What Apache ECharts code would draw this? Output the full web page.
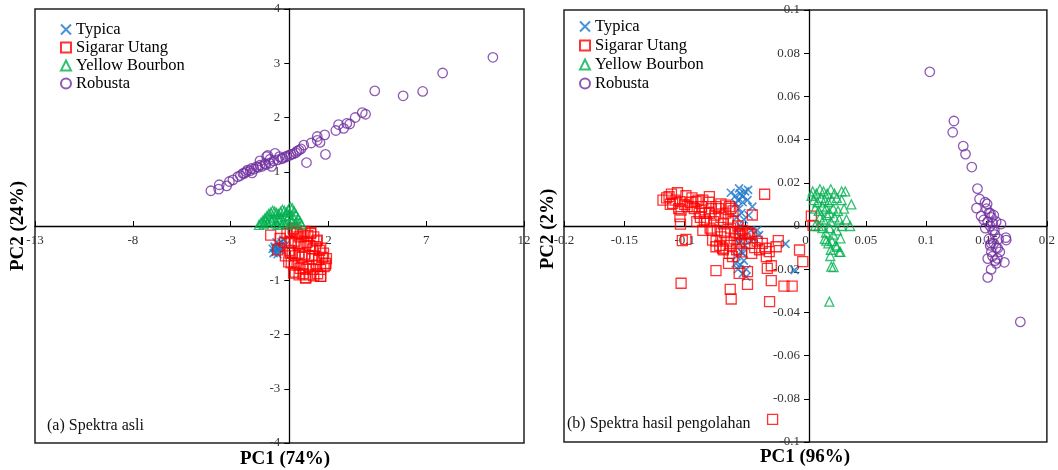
<!DOCTYPE html>
<html>
<head>
<meta charset="utf-8">
<script src="https://cdn.jsdelivr.net/npm/echarts@6/dist/echarts.min.js"></script>
<style>
  html, body { margin: 0; padding: 0; background: #fff; }
  #chart { width: 1058px; height: 470px; }
</style>
</head>
<body>
<div id="chart"></div>
<script>
// ---- panel (a): raw spectra scores ----
const typicaA = [
  [-0.85, -0.42], [-0.75, -0.38], [-0.7, -0.48], [-0.62, -0.4], [-0.55, -0.33], [-0.5, -0.45],
  [-0.45, -0.38], [-0.8, -0.5], [-0.65, -0.3], [-0.4, -0.3], [-0.3, -0.25], [-0.35, -0.45],
  [-0.2, -0.35], [-0.73, -0.41], [-0.6, -0.52]
]
const sigararA = [
  [-0.95, -0.17], [-0.59, -0.44], [-0.47, -0.23], [-0.12, -0.14], [0.22, -0.07], [0.4, -0.14],
  [1.09, -0.14], [1.43, -0.26], [1.61, -0.41], [1.87, -0.69], [1.78, -0.75], [1.61, -0.93],
  [0.83, -0.96], [0.22, -0.87], [-0.03, -0.66], [0.05, -0.5],
  [0.05, -0.1], [0.2, -0.05], [0.35, -0.12], [0.5, -0.2], [0.65, -0.15], [0.8, -0.1], [0.95, -0.18],
  [1.1, -0.12], [1.25, -0.2], [1.4, -0.28], [0.1, -0.3], [0.3, -0.28], [0.45, -0.35], [0.6, -0.32],
  [0.75, -0.38], [0.9, -0.3], [1.05, -0.36], [1.2, -0.42], [1.35, -0.38], [1.55, -0.45], [0.0, -0.45],
  [0.15, -0.5], [0.3, -0.55], [0.5, -0.5], [0.65, -0.58], [0.8, -0.52], [1.0, -0.55], [1.15, -0.6],
  [1.3, -0.55], [1.5, -0.62], [1.7, -0.58], [0.1, -0.68], [0.25, -0.72], [0.4, -0.7], [0.55, -0.78],
  [0.7, -0.72], [0.85, -0.8], [1.0, -0.75], [1.2, -0.8], [1.4, -0.72], [1.6, -0.8], [1.85, -0.72],
  [0.3, -0.85], [0.5, -0.9], [0.7, -0.88], [0.85, -0.95], [1.05, -0.9], [1.25, -0.92], [1.45, -0.88],
  [1.6, -0.93], [-0.25, -0.3], [-0.2, -0.55], [1.9, -0.6], [1.75, -0.5]
]
const bourbonA = [
  [-1.55, 0.02], [-1.45, 0.06], [-1.35, 0.1], [-1.25, 0.14], [-1.15, 0.18], [-1.05, 0.22], [-0.95, 0.25],
  [-0.85, 0.28], [-0.75, 0.27], [-0.65, 0.24], [-0.55, 0.22], [-0.45, 0.26], [-0.35, 0.3], [-0.25, 0.28],
  [-0.15, 0.25], [-0.05, 0.3], [0.05, 0.35], [0.15, 0.33], [0.25, 0.27], [0.35, 0.2], [0.45, 0.14],
  [0.55, 0.08], [0.62, 0.03], [-1.3, 0.03], [-1.1, 0.06], [-0.9, 0.1], [-0.7, 0.05], [-0.5, 0.1],
  [-0.3, 0.06], [-0.1, 0.12], [0.1, 0.08], [0.3, 0.04], [-1.0, 0.14], [-0.8, 0.16], [-0.6, 0.12],
  [-0.4, 0.16], [-0.2, 0.18], [0.0, 0.2], [0.2, 0.15], [0.4, 0.08], [-0.15, 0.02], [-0.6, 0.02], [-1.2, 0.1]
]
const robustaA = [
  [10.41, 3.11], [7.84, 2.82], [6.82, 2.48], [5.82, 2.4], [4.37, 2.49], [3.9, 2.06], [3.73, 2.09],
  [3.37, 2.0], [3.09, 1.88], [2.94, 1.89], [2.78, 1.8], [2.52, 1.87], [2.38, 1.76], [1.81, 1.68],
  [1.43, 1.65], [1.57, 1.54], [1.43, 1.58], [1.85, 1.32], [1.12, 1.53], [0.88, 1.17], [0.74, 1.49],
  [0.5, 1.4], [0.33, 1.35], [0.09, 1.32], [-0.12, 1.29], [-0.33, 1.25], [-0.73, 1.34], [-0.98, 1.23],
  [-1.16, 1.28], [-1.24, 1.15], [-1.5, 1.12], [-1.68, 1.09], [-1.93, 1.06], [-2.14, 1.03], [-2.37, 0.97],
  [-2.63, 0.91], [-2.88, 0.85], [-3.06, 0.82], [-3.2, 0.74], [-3.58, 0.76], [-3.61, 0.68], [-4.01, 0.65],
  [-2.5, 0.93], [-2.3, 0.97], [-2.0, 1.02], [-1.8, 1.05], [-1.6, 1.08], [-1.4, 1.1], [-1.2, 1.13],
  [-1.0, 1.16], [-0.8, 1.2], [-0.6, 1.22], [-0.4, 1.24], [-0.2, 1.27], [0.0, 1.3], [0.2, 1.33],
  [-1.5, 1.2], [-1.1, 1.3], [-0.9, 1.1], [-1.9, 0.98], [-2.2, 1.0], [-0.5, 1.28], [0.4, 1.38], [0.6, 1.42]
]

// ---- panel (b): processed spectra scores ----
const typicaB = [
  [-0.0618, 0.0154], [-0.055, 0.0174], [-0.0475, 0.0167], [-0.052, 0.0136], [-0.044, 0.009],
  [-0.0577, 0.0105], [-0.04, -0.0019], [-0.0384, -0.0042], [-0.0165, -0.0083], [-0.009, -0.0204],
  [-0.049, -0.0235], [-0.0577, -0.0173], [-0.052, -0.0127],
  [-0.058, 0.014], [-0.056, 0.012], [-0.054, 0.015], [-0.052, 0.011], [-0.055, 0.008], [-0.053, 0.006],
  [-0.057, 0.004], [-0.051, 0.003], [-0.054, 0.0], [-0.056, -0.003], [-0.052, -0.005], [-0.055, -0.008],
  [-0.05, -0.009], [-0.053, -0.012], [-0.057, -0.014], [-0.051, -0.016], [-0.054, -0.018], [-0.049, -0.02],
  [-0.056, -0.02], [-0.052, -0.022], [-0.047, 0.005], [-0.045, -0.002], [-0.043, -0.006], [-0.048, 0.012],
  [-0.05, 0.016]
]
const sigararB = [
  [-0.118, 0.012], [-0.113, 0.0136], [-0.111, 0.0148], [-0.106, 0.0154], [-0.099, 0.014], [-0.104, 0.0113],
  [-0.11, 0.0105], [-0.103, 0.0074], [-0.104, 0.0043], [-0.1035, 0.0009], [-0.099, -0.0062], [-0.102, -0.0068],
  [-0.103, -0.0265], [-0.0796, 0.0136], [-0.0906, 0.0113], [-0.085, 0.012], [-0.0934, 0.009], [-0.088, 0.0059],
  [-0.0838, 0.0028], [-0.0796, 0.0059], [-0.0741, 0.009], [-0.07, 0.0102], [-0.066, 0.0097], [-0.0618, 0.0082],
  [-0.078, -0.0019], [-0.0769, -0.0065], [-0.0741, -0.0096], [-0.0686, -0.0103], [-0.0632, -0.0127],
  [-0.0604, -0.0142], [-0.0637, -0.0173], [-0.0741, -0.0207], [-0.0549, -0.0219], [-0.048, -0.0211],
  [-0.048, -0.027], [-0.0623, -0.0293], [-0.0615, -0.0338], [-0.0549, -0.0034], [-0.0467, -0.0034],
  [-0.044, 0.0051], [-0.0445, -0.0127], [-0.0357, -0.008], [-0.033, -0.0103], [-0.03, -0.0119],
  [-0.0324, -0.0142], [-0.0225, -0.0068], [-0.0242, -0.0096], [-0.0316, -0.0196], [-0.0283, -0.0184],
  [-0.0283, -0.0253], [-0.0297, -0.035], [-0.0178, -0.0278], [-0.011, -0.0278], [-0.0049, -0.0111],
  [-0.0022, -0.0165], [-0.0338, 0.0147], [0.0049, 0.0046], [0.0063, 0.0003], [-0.0272, -0.0895],
  [-0.095, 0.011], [-0.092, 0.008], [-0.089, 0.012], [-0.086, 0.009], [-0.083, 0.006], [-0.08, 0.011],
  [-0.078, 0.008], [-0.075, 0.005], [-0.072, 0.008], [-0.07, 0.004], [-0.068, 0.001], [-0.066, 0.006],
  [-0.064, 0.003], [-0.062, -0.001], [-0.06, 0.002], [-0.058, -0.003], [-0.056, 0.0], [-0.054, -0.004],
  [-0.052, -0.002], [-0.05, -0.006], [-0.048, -0.003], [-0.046, -0.008], [-0.082, 0.002], [-0.079, -0.001],
  [-0.076, 0.002], [-0.073, -0.002], [-0.07, -0.005], [-0.067, -0.003], [-0.065, -0.007], [-0.062, -0.009],
  [-0.059, -0.006], [-0.057, -0.011], [-0.055, -0.008], [-0.053, -0.012], [-0.074, -0.007], [-0.071, -0.009],
  [-0.068, -0.011], [-0.087, 0.004], [-0.09, 0.002], [-0.085, -0.002], [-0.1, 0.01], [-0.108, 0.012],
  [-0.112, 0.01], [-0.115, 0.013], [-0.105, 0.008], [-0.098, 0.009], [-0.094, 0.013], [-0.06, 0.007],
  [-0.063, 0.009], [-0.045, -0.004], [-0.042, -0.01], [-0.04, -0.007], [-0.038, -0.011]
]
const bourbonB = [
  [0.03, 0.016], [0.033, 0.016], [0.038, 0.01], [0.034, 0.003], [0.037, 0.0], [0.03, 0.0], [0.008, 0.0],
  [0.029, -0.0057], [0.026, -0.0096], [0.029, -0.012], [0.0206, -0.0139], [0.0214, -0.0188],
  [0.0233, -0.019], [0.0198, -0.035], [0.0173, -0.0068],
  [0.006, 0.016], [0.009, 0.015], [0.012, 0.017], [0.015, 0.016], [0.018, 0.015], [0.021, 0.017],
  [0.024, 0.015], [0.007, 0.012], [0.01, 0.011], [0.013, 0.013], [0.016, 0.012], [0.019, 0.011],
  [0.022, 0.012], [0.026, 0.013], [0.008, 0.008], [0.011, 0.007], [0.014, 0.009], [0.017, 0.008],
  [0.02, 0.006], [0.023, 0.008], [0.027, 0.007], [0.012, 0.004], [0.015, 0.003], [0.018, 0.005],
  [0.021, 0.002], [0.024, 0.004], [0.028, 0.003], [0.014, -0.001], [0.017, -0.003], [0.02, -0.001],
  [0.023, -0.004], [0.026, -0.002], [0.016, -0.006], [0.019, -0.008], [0.022, -0.007], [0.025, -0.009],
  [0.021, -0.011], [0.028, -0.012], [0.03, 0.012], [0.032, 0.008], [0.011, 0.0], [0.005, 0.014]
]
const robustaB = [
  [0.103, 0.0714], [0.123, 0.0486], [0.122, 0.0434], [0.1307, 0.037], [0.1326, 0.0333], [0.1378, 0.0273],
  [0.1425, 0.0173], [0.1442, 0.0125], [0.1417, 0.0083], [0.1488, 0.011], [0.1505, 0.0102], [0.1532, 0.0059],
  [0.1455, 0.0046], [0.1477, 0.0028], [0.1552, 0.0012], [0.162, 0.0009], [0.1565, -0.0019], [0.166, -0.0054],
  [0.1663, -0.0065], [0.1538, -0.008], [0.1593, -0.0103], [0.151, -0.0151], [0.1648, -0.0168],
  [0.158, -0.0173], [0.1538, -0.0201], [0.151, -0.0238], [0.178, -0.0444],
  [0.15, 0.008], [0.152, 0.006], [0.154, 0.004], [0.151, 0.002], [0.153, 0.0], [0.155, -0.002],
  [0.157, -0.004], [0.152, -0.006], [0.156, -0.008], [0.158, -0.01], [0.154, -0.012], [0.16, -0.006],
  [0.158, 0.002], [0.156, 0.005], [0.149, -0.001], [0.155, -0.014], [0.159, -0.015], [0.161, -0.012],
  [0.157, -0.016], [0.153, -0.009]
]

const names = ['Typica', 'Sigarar Utang', 'Yellow Bourbon', 'Robusta']
const colors = ['#1a75c9', '#ff0000', '#00b050', '#7030a0']
const symbols = ['path://M0,0L10,10M10,0L0,10', 'rect', 'triangle', 'circle']
const sizes = [8, 10, 9, 9.5]

const serif = 'Liberation Serif, Times New Roman, serif'

function makeSeries(idx, data, gridIdx) {
  return {
    name: names[idx],
    type: 'scatter',
    xAxisIndex: gridIdx,
    yAxisIndex: gridIdx,
    symbol: symbols[idx],
    symbolSize: sizes[idx],
    data: data,
    itemStyle: {
      color: 'rgba(255,255,255,0)',
      borderColor: colors[idx],
      borderWidth: idx === 0 ? 1.6 : 1.3
    },
    emphasis: { disabled: true },
    z: 3 + idx
  }
}

// axes are pushed into the plot so they cross at zero, with their labels
function xAxisOpt(gridIdx, min, max, interval, offset) {
  return {
    type: 'value',
    gridIndex: gridIdx,
    position: 'bottom',
    offset: offset,
    min: min,
    max: max,
    interval: interval,
    axisLine: { onZero: false, lineStyle: { color: '#000', width: 1.3 } },
    axisTick: { inside: true, length: 5, lineStyle: { color: '#000' } },
    axisLabel: { fontFamily: serif, fontSize: 13, color: '#333', margin: 8 },
    splitLine: { show: false }
  }
}

function yAxisOpt(gridIdx, min, max, interval, offset) {
  return {
    type: 'value',
    gridIndex: gridIdx,
    position: 'left',
    offset: offset,
    min: min,
    max: max,
    interval: interval,
    axisLine: { show: true, onZero: false, lineStyle: { color: '#000', width: 1.3 } },
    axisTick: { show: true, length: 5, lineStyle: { color: '#000' } },
    axisLabel: { fontFamily: serif, fontSize: 13, color: '#333', margin: 9 },
    splitLine: { show: false }
  }
}

function legendOpt(left, top, gap) {
  return {
    orient: 'vertical',
    left: left,
    top: top,
    padding: 0,
    itemWidth: 10,
    itemHeight: 10,
    itemGap: gap,
    data: names,
    textStyle: { fontFamily: serif, fontSize: 16.5, color: '#000' },
    selectedMode: false
  }
}

const chart = echarts.init(document.getElementById('chart'), null, { renderer: 'canvas' })

chart.setOption({
  backgroundColor: '#fff',
  animation: false,
  grid: [
    { left: 35, top: 9, width: 489, height: 434, show: true, borderColor: '#222', borderWidth: 1.5, backgroundColor: 'transparent' },
    { left: 564, top: 10, width: 490, height: 432, show: true, borderColor: '#222', borderWidth: 1.5, backgroundColor: 'transparent' }
  ],
  legend: [legendOpt(60, 21, 1), legendOpt(579, 18, 2)],
  xAxis: [xAxisOpt(0, -13, 12, 5, -217), xAxisOpt(1, -0.2, 0.2, 0.05, -216)],
  yAxis: [yAxisOpt(0, -4, 4, 1, -254.3), yAxisOpt(1, -0.1, 0.1, 0.02, -245)],
  series: [
    makeSeries(0, typicaA, 0),
    makeSeries(1, sigararA, 0),
    makeSeries(2, bourbonA, 0),
    makeSeries(3, robustaA, 0),
    makeSeries(0, typicaB, 1),
    makeSeries(1, sigararB, 1),
    makeSeries(2, bourbonB, 1),
    makeSeries(3, robustaB, 1)
  ],
  graphic: [
    { type: 'text', x: 285, y: 459, style: { text: 'PC1 (74%)', font: 'bold 19px ' + serif, fill: '#000', textAlign: 'center', textVerticalAlign: 'middle' } },
    { type: 'text', x: 18, y: 226, rotation: Math.PI / 2, style: { text: 'PC2 (24%)', font: 'bold 19px ' + serif, fill: '#000', textAlign: 'center', textVerticalAlign: 'middle' } },
    { type: 'text', x: 805, y: 457, style: { text: 'PC1 (96%)', font: 'bold 19px ' + serif, fill: '#000', textAlign: 'center', textVerticalAlign: 'middle' } },
    { type: 'text', x: 548, y: 229, rotation: Math.PI / 2, style: { text: 'PC2 (2%)', font: 'bold 19px ' + serif, fill: '#000', textAlign: 'center', textVerticalAlign: 'middle' } },
    { type: 'text', x: 47, y: 426, style: { text: '(a) Spektra asli', font: '16px ' + serif, fill: '#111', textVerticalAlign: 'middle' } },
    { type: 'text', x: 567, y: 424, style: { text: '(b) Spektra hasil pengolahan', font: '16px ' + serif, fill: '#111', textVerticalAlign: 'middle' } }
  ]
})
</script>
</body>
</html>
